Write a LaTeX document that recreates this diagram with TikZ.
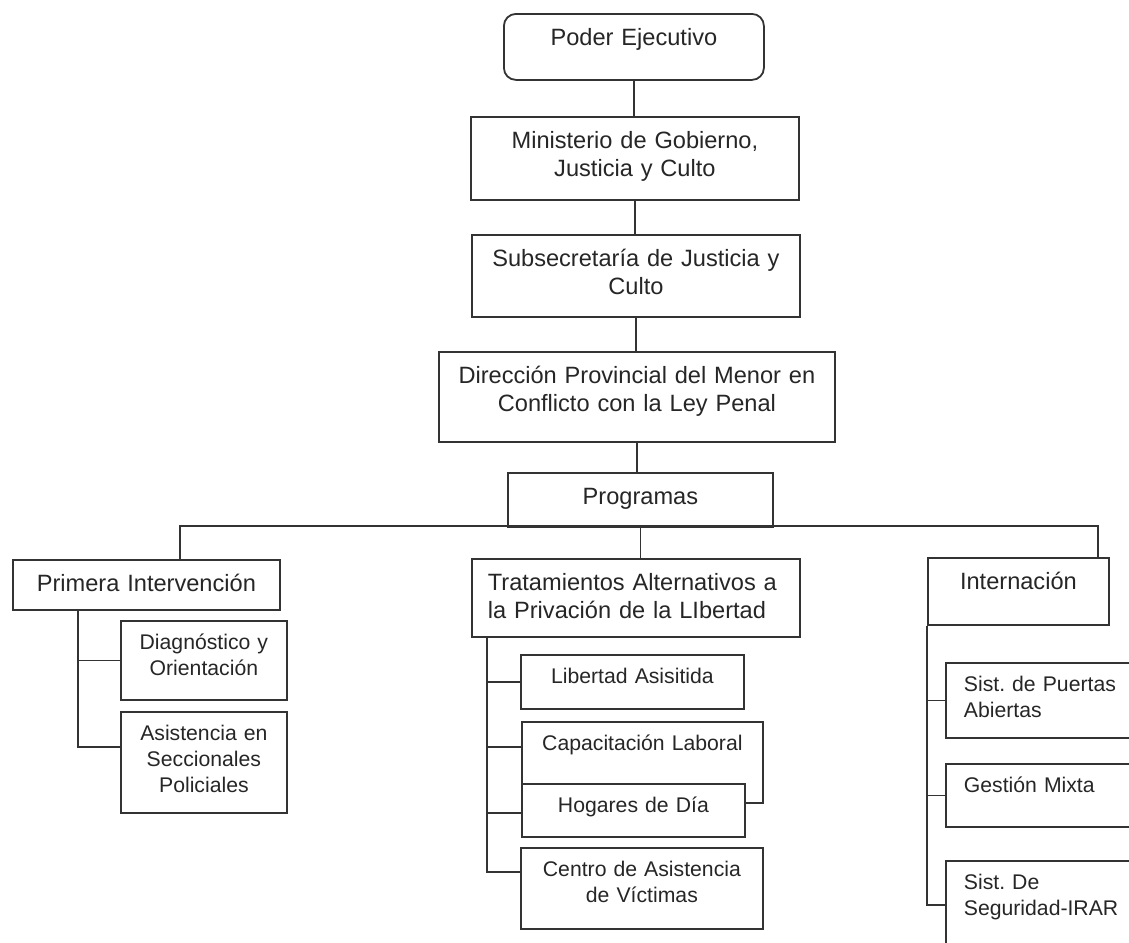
\documentclass[tikz,border=0pt]{standalone}
\usepackage{fontspec}
\setmainfont{Liberation Sans}
\frenchspacing
\usepackage{tikz}
\tikzset{caja/.style={draw=black!80, line width=0.9pt, fill=white, text=black!85,
    font=\fontsize{11.8}{14}\selectfont, inner xsep=4pt, inner ysep=0pt,
    text height=16pt, align=center, anchor=north west}
}
\tikzset{hijo/.style={caja, font=\fontsize{10.6}{13}\selectfont, text height=14.5pt}}
\tikzset{hijoizq/.style={hijo, inner xsep=9pt, align=left}}
\tikzset{tam/.style 2 args={minimum width=#1*0.5pt, text width=#1*0.5pt-8pt, text depth=#2*0.5pt-16pt}}
\tikzset{tamh/.style 2 args={minimum width=#1*0.5pt, text width=#1*0.5pt-8pt, text depth=#2*0.5pt-14.5pt}}
\tikzset{tamizq/.style 2 args={minimum width=#1*0.5pt, text width=#1*0.5pt-18pt, text depth=#2*0.5pt-14.5pt}}
\tikzset{linea/.style={draw=black!80, line width=0.9pt}}

\begin{document}
\begin{tikzpicture}[x=0.5pt, y=-0.5pt]
                \fill[white] (0,0) rectangle (1129,942);
                \useasboundingbox (0,0) rectangle (1129,942);

                % Cadena superior
                \node[caja, tam={260}{66}, rounded corners=6pt] (poder) at (503,13) {Poder Ejecutivo};
                \node[caja, tam={328}{83}] (minis) at (470,116) {Ministerio de Gobierno,\\ Justicia y Culto};
                \node[caja, tam={328}{82}] (subse) at (471,234) {Subsecretaría de Justicia y\\ Culto};
                \node[caja, tam={396}{90}] (direc) at (438,351) {Dirección Provincial del Menor en\\ Conflicto con la Ley Penal};
                \node[caja, tam={265}{54}] (progr) at (507,472) {Programas};

                \draw[linea] (poder.south) -- (poder.south |- minis.north);
                \draw[linea] (minis.south) -- (minis.south |- subse.north);
                \draw[linea] (subse.south) -- (subse.south |- direc.north);
                \draw[linea] (direc.south) -- (direc.south |- progr.north);

                % Programas
                \node[caja, tam={267}{50}] (prim) at (12,559) {Primera Intervención};
                \node[caja, align=left, inner xsep=8pt, text width=148pt, text depth=23pt] (trat) at (471,558) {Tratamientos Alternativos a\\ la Privación de la LIbertad};
                \node[caja, tam={181}{67}] (inter) at (927,557) {Internación};

                \coordinate (bus-l) at (180,526);
                \coordinate (bus-r) at (1098,526);
                \draw[linea] (prim.north -| bus-l) -- (bus-l) -- (bus-r) -- (inter.north -| bus-r);
                \draw[linea] (progr.south) -- (progr.south |- trat.north);

                % Primera Intervencion
                \node[hijo, tamh={166}{79}] (diag) at (120,620) {Diagnóstico y\\ Orientación};
                \node[hijo, tamh={166}{101}] (asis) at (120,711) {Asistencia en\\ Seccionales\\ Policiales};

                \coordinate (pi-tronco) at ([xshift=33pt]prim.south west);
                \draw[linea] (pi-tronco) |- (diag.west);
                \draw[linea] (pi-tronco) |- ([yshift=-18pt]asis.north west);

                % Tratamientos alternativos
                \node[hijo, tamh={223}{54}] (libe) at (520,654) {Libertad Asisitida};
                \node[hijo, tamh={241}{81}] (capa) at (521,721) {Capacitación Laboral};
                \node[hijo, tamh={223}{53}] (hoga) at (521,783) {Hogares de Día};
                \node[hijo, tamh={242}{81}] (cent) at (520,847) {Centro de Asistencia\\ de Víctimas};

                \coordinate (tr-tronco) at ([xshift=8pt]trat.south west);
                \draw[linea] (tr-tronco) |- (libe.west);
                \draw[linea] (tr-tronco) |- ([yshift=-13pt]capa.north west);
                \draw[linea] (tr-tronco) |- ([yshift=-15pt]hoga.north west);
                \draw[linea] (tr-tronco) |- ([yshift=-12.5pt]cent.north west);

                % Internacion
                \node[hijoizq, tamizq={220}{75}] (puer) at (945,662) {Sist. de Puertas\\ Abiertas};
                \node[hijoizq, tamizq={220}{63}] (gest) at (945,763) {Gestión Mixta};
                \node[hijoizq, tamizq={220}{110}] (segu) at (945,860) {Sist. De\\ Seguridad-IRAR};

                \draw[linea] (inter.south west) |- (puer.west);
                \draw[linea] (inter.south west) |- (gest.west);
                \draw[linea] (inter.south west) |- ([yshift=-22.5pt]segu.north west);
\end{tikzpicture}
\end{document}
